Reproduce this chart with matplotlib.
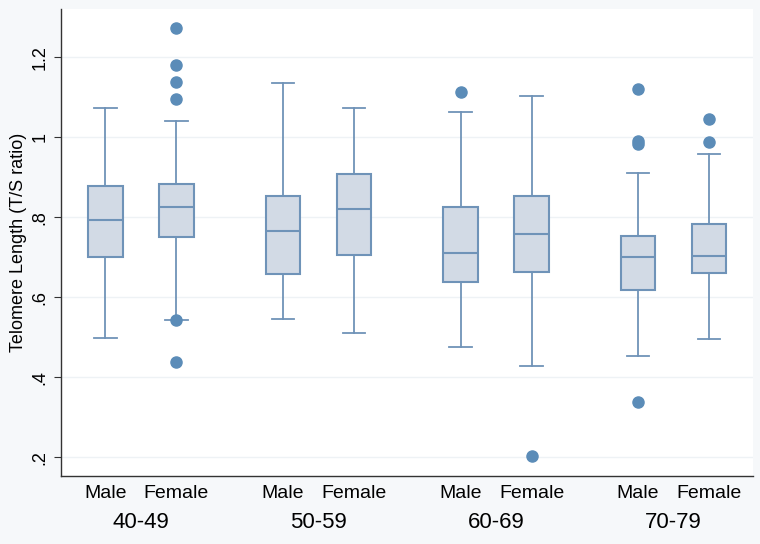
import matplotlib.pyplot as plt
import numpy as np

plt.rcParams['font.family'] = ['Liberation Sans', 'DejaVu Sans']

age_groups = ['40-49', '50-59', '60-69', '70-79']
sexes = ['Male', 'Female']

# per box, order: 40-49 M, 40-49 F, 50-59 M, 50-59 F, ...
whislo = [0.498, 0.543, 0.546, 0.511, 0.476, 0.428, 0.454, 0.496]
q1 = [0.700, 0.750, 0.658, 0.706, 0.639, 0.662, 0.617, 0.661]
med = [0.793, 0.825, 0.766, 0.821, 0.710, 0.757, 0.700, 0.704]
q3 = [0.878, 0.883, 0.853, 0.908, 0.825, 0.852, 0.753, 0.782]
whishi = [1.072, 1.040, 1.135, 1.072, 1.062, 1.103, 0.910, 0.958]
outliers = [
    [],
    [1.273, 1.180, 1.137, 1.095, 0.543, 0.437],
    [],
    [],
    [1.113],
    [0.203],
    [1.120, 0.991, 0.983, 0.337],
    [1.045, 0.987],
]

box_edge = '#6f93b8'
box_fill = '#d2dae5'
dot_col = '#5b8cb8'

stats = []
for i in range(len(med)):
    stats.append(dict(whislo=whislo[i], q1=q1[i], med=med[i], q3=q3[i],
                      whishi=whishi[i], fliers=outliers[i]))

positions = []
for g in range(len(age_groups)):
    positions += [g * 2.5, g * 2.5 + 1]

fig = plt.figure(figsize=(7.6, 5.44), dpi=100, facecolor='#f6f8fa')
ax = fig.add_axes([0.0799, 0.1256, 0.911, 0.8574])
ax.set_facecolor('white')

ax.bxp(stats, positions=positions, widths=0.48, patch_artist=True,
       boxprops=dict(facecolor=box_fill, edgecolor=box_edge, linewidth=1.5),
       medianprops=dict(color=box_edge, linewidth=1.5),
       whiskerprops=dict(color=box_edge, linewidth=1.3),
       capprops=dict(color=box_edge, linewidth=1.3),
       capwidths=0.32,
       flierprops=dict(marker='o', markersize=8, markerfacecolor=dot_col,
                       markeredgecolor=dot_col, linestyle='none'),
       zorder=3)

ax.set_xlim(-0.63, positions[-1] + 0.62)
ax.set_ylim(0.154, 1.32)

yt = [0.2, 0.4, 0.6, 0.8, 1.0, 1.2]
ax.set_yticks(yt)
ax.set_yticklabels(['.2', '.4', '.6', '.8', '1', '1.2'], rotation=90,
                   va='center', fontsize=13)
ax.yaxis.grid(True, color='#eef2f5', linewidth=1)
ax.set_axisbelow(True)

ax.set_xticks(positions)
ax.set_xticklabels(sexes * len(age_groups), fontsize=14)
ax.tick_params(axis='x', length=0, pad=7)
ax.tick_params(axis='y', length=5, color='#333333', pad=4)

for g, lab in enumerate(age_groups):
    ax.text(g * 2.5 + 0.5, -0.1, lab, transform=ax.get_xaxis_transform(),
            ha='center', va='center', fontsize=16)

ax.set_ylabel('Telomere Length (T/S ratio)', fontsize=13, labelpad=3)

for s in ['top', 'right']:
    ax.spines[s].set_visible(False)
for s in ['left', 'bottom']:
    ax.spines[s].set_color('#333333')
    ax.spines[s].set_linewidth(1)

fig.savefig('out.png', dpi=100, facecolor=fig.get_facecolor())
